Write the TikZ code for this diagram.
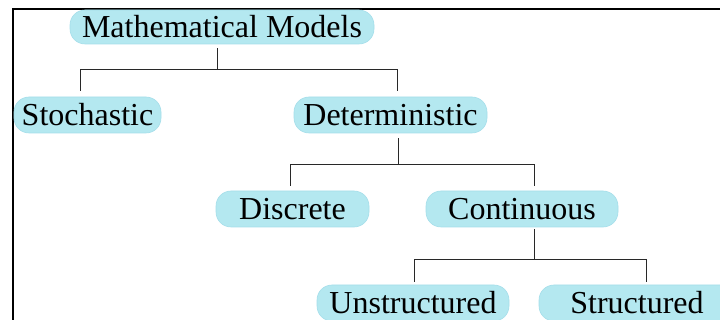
\documentclass[tikz,border=0pt]{standalone}
\usepackage{fontspec}
\setmainfont{Liberation Serif}
\usetikzlibrary{calc}
\definecolor{pill}{RGB}{180,232,240}
\definecolor{pillrim}{RGB}{165,222,234}
\definecolor{conn}{RGB}{40,40,40}
\tikzset{
  pillbox/.style={fill=pill, draw=pillrim, line width=0.6pt, rounded corners=15pt, inner sep=0pt,
    minimum height=36pt, font=\fontsize{32}{32}\selectfont, anchor=center},
  link/.style={draw=conn, line width=1pt},
  frame/.style={draw=black, line width=2pt}
}
\begin{document}
\begin{tikzpicture}[x=1pt,y=-1pt]
\useasboundingbox (0,0) rectangle (720,320);
\draw[frame] (12.5,340) -- (12.5,9) -- (740,9);
\node[pillbox, minimum width=304pt, minimum height=34pt] (mm) at (222,27) {Mathematical Models};
\node[pillbox, minimum width=147pt] (sto) at (87.5,115) {Stochastic};
\node[pillbox, minimum width=193pt] (det) at (390.5,115) {Deterministic};
\node[pillbox, minimum width=153pt] (dis) at (292.5,209) {Discrete};
\node[pillbox, minimum width=192pt] (con) at (522,209) {Continuous};
\node[pillbox, minimum width=192pt] (uns) at (413,303) {Unstructured};
\node[pillbox, minimum width=196pt] (str) at (637,303) {Structured};
% connectors
\coordinate (mmb) at ($(mm.south)+(-5,4)$);
\coordinate (mmj) at ($(mmb)+(0,21)$);
\draw[link] (mmb) -- (mmj);
\draw[link] ($(sto.north)+(-7.5,-6)$) |- (mmj) -| ($(det.north)+(6.5,-6)$);
\coordinate (detb) at ($(det.south)+(7.5,5)$);
\coordinate (detj) at ($(detb)+(0,26)$);
\draw[link] (detb) -- (detj);
\draw[link] ($(dis.north)+(-2.5,-5)$) |- (detj) -| ($(con.north)+(12,-5)$);
\coordinate (conb) at ($(con.south)+(12,2)$);
\coordinate (conj) at ($(conb)+(0,30)$);
\draw[link] (conb) -- (conj);
\draw[link] ($(uns.north)+(1,-3)$) |- (conj) -| ($(str.north)+(9,-3)$);
\end{tikzpicture}
\end{document}
